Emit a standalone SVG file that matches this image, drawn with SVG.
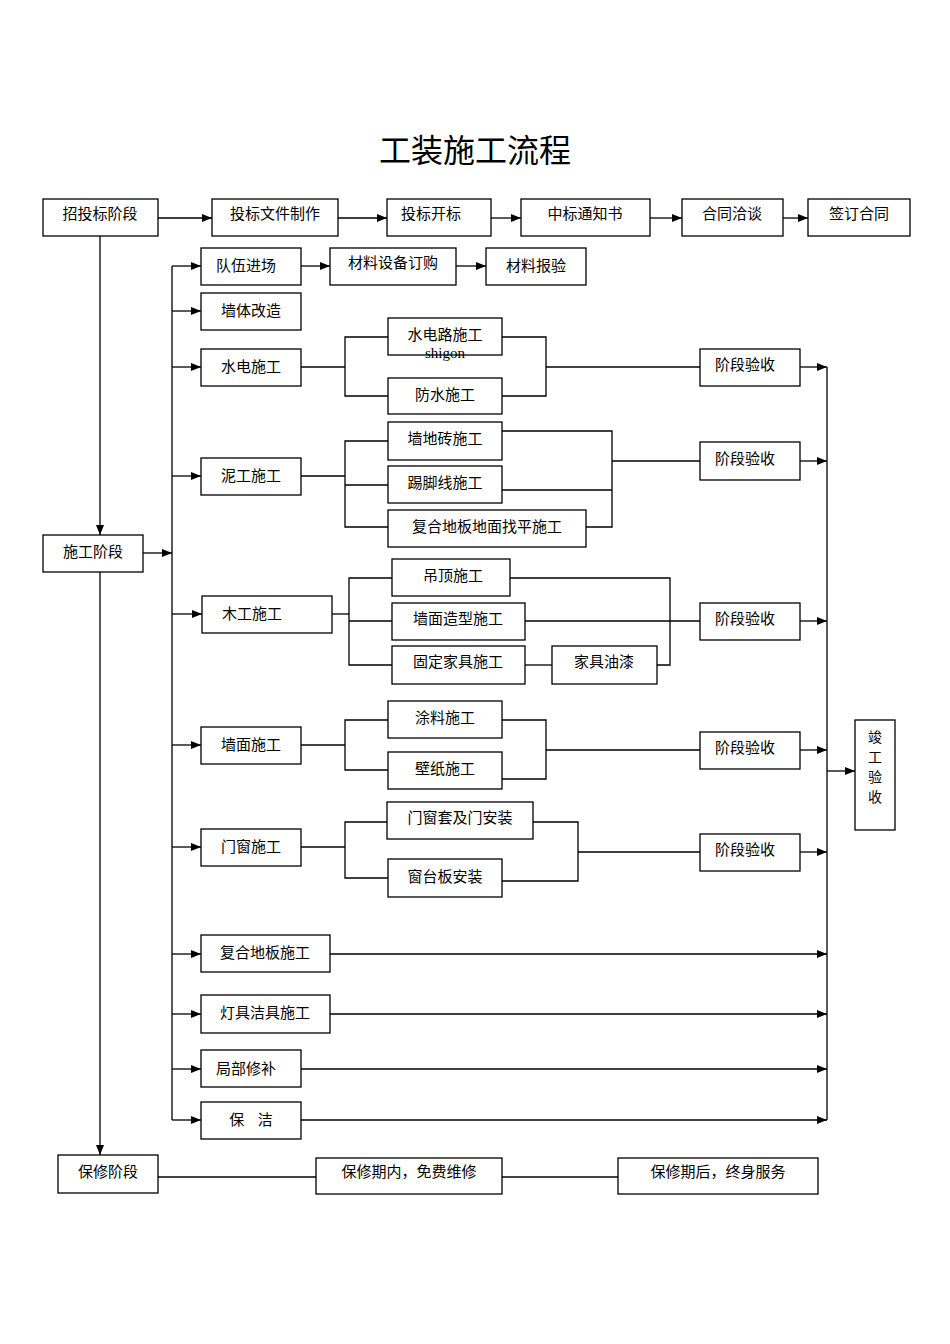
<svg xmlns="http://www.w3.org/2000/svg" width="950" height="1344" viewBox="0 0 950 1344">
<style>
rect{fill:#fff;stroke:#000;stroke-width:1.3}
text{font-family:"Noto Sans CJK SC","Liberation Sans",sans-serif;font-size:15px;text-anchor:middle;fill:#000}
.c line,.c polyline{stroke:#000;stroke-width:1.3;fill:none}
.a{marker-end:url(#ar)}
</style>
<defs><marker id="ar" markerWidth="10" markerHeight="8" refX="10" refY="4" orient="auto" markerUnits="userSpaceOnUse"><path d="M0,0L10,4L0,8z" fill="#000"/></marker></defs>
<rect x="0" y="0" width="950" height="1344" style="stroke:none"/>
<text x="475" y="162" style="font-size:32px">工装施工流程</text>
<g class="c">
<line class="a" x1="158" y1="218" x2="212" y2="218"/>
<line class="a" x1="338" y1="218" x2="387" y2="218"/>
<line class="a" x1="491" y1="218" x2="521" y2="218"/>
<line class="a" x1="650" y1="218" x2="682" y2="218"/>
<line class="a" x1="783" y1="218" x2="808" y2="218"/>
<line class="a" x1="100" y1="236" x2="100" y2="535"/>
<line class="a" x1="100" y1="572" x2="100" y2="1155"/>
<line x1="158" y1="1177" x2="316" y2="1177"/>
<line x1="502" y1="1177" x2="618" y2="1177"/>
<line class="a" x1="143" y1="553" x2="172" y2="553"/>
<line x1="172" y1="266" x2="172" y2="1120"/>
<line class="a" x1="172" y1="266" x2="201" y2="266"/>
<line class="a" x1="172" y1="311" x2="201" y2="311"/>
<line class="a" x1="172" y1="367" x2="201" y2="367"/>
<line class="a" x1="172" y1="476" x2="201" y2="476"/>
<line class="a" x1="172" y1="614" x2="202" y2="614"/>
<line class="a" x1="172" y1="745" x2="201" y2="745"/>
<line class="a" x1="172" y1="847" x2="201" y2="847"/>
<line class="a" x1="172" y1="954" x2="201" y2="954"/>
<line class="a" x1="172" y1="1014" x2="201" y2="1014"/>
<line class="a" x1="172" y1="1069" x2="201" y2="1069"/>
<line class="a" x1="172" y1="1120" x2="201" y2="1120"/>
<line class="a" x1="301" y1="266" x2="330" y2="266"/>
<line class="a" x1="456" y1="266" x2="486" y2="266"/>
<line x1="301" y1="367" x2="345" y2="367"/>
<polyline points="388,337 345,337 345,396 388,396"/>
<polyline points="502,337 546,337 546,396 502,396"/>
<line x1="546" y1="367" x2="700" y2="367"/>
<line x1="301" y1="476" x2="345" y2="476"/>
<polyline points="388,441 345,441 345,527 388,527"/>
<line x1="345" y1="485" x2="388" y2="485"/>
<polyline points="502,431 612,431 612,527 586,527"/>
<line x1="502" y1="490" x2="612" y2="490"/>
<line x1="612" y1="461" x2="700" y2="461"/>
<line x1="332" y1="614" x2="349" y2="614"/>
<polyline points="392,578 349,578 349,665 392,665"/>
<line x1="349" y1="621" x2="392" y2="621"/>
<polyline points="510,578 670,578 670,665 657,665"/>
<line x1="525" y1="665" x2="552" y2="665"/>
<line x1="525" y1="621" x2="700" y2="621"/>
<line x1="301" y1="745" x2="345" y2="745"/>
<polyline points="388,720 345,720 345,770 388,770"/>
<polyline points="502,720 546,720 546,779 502,779"/>
<line x1="546" y1="750" x2="700" y2="750"/>
<line x1="301" y1="847" x2="345" y2="847"/>
<polyline points="387,822 345,822 345,878 388,878"/>
<polyline points="533,822 578,822 578,881 502,881"/>
<line x1="578" y1="852" x2="700" y2="852"/>
<line class="a" x1="800" y1="367" x2="827" y2="367"/>
<line class="a" x1="800" y1="461" x2="827" y2="461"/>
<line class="a" x1="800" y1="621" x2="827" y2="621"/>
<line class="a" x1="800" y1="750" x2="827" y2="750"/>
<line class="a" x1="800" y1="852" x2="827" y2="852"/>
<line class="a" x1="330" y1="954" x2="827" y2="954"/>
<line class="a" x1="330" y1="1014" x2="827" y2="1014"/>
<line class="a" x1="301" y1="1069" x2="827" y2="1069"/>
<line class="a" x1="301" y1="1120" x2="827" y2="1120"/>
<line x1="827" y1="367" x2="827" y2="1120"/>
<line class="a" x1="827" y1="771" x2="855" y2="771"/>
</g>
<g id="n1"><rect x="43" y="199" width="115" height="37"/><text x="100" y="219">招投标阶段</text></g>
<g id="n2"><rect x="212" y="199" width="126" height="37"/><text x="275" y="219">投标文件制作</text></g>
<g id="n3"><rect x="387" y="199" width="104" height="37"/><text x="431" y="219">投标开标</text></g>
<g id="n4"><rect x="521" y="199" width="129" height="37"/><text x="585" y="219">中标通知书</text></g>
<g id="n5"><rect x="682" y="199" width="101" height="37"/><text x="732" y="219">合同洽谈</text></g>
<g id="n6"><rect x="808" y="199" width="102" height="37"/><text x="859" y="219">签订合同</text></g>
<g id="n7"><rect x="43" y="535" width="100" height="37"/><text x="93" y="557">施工阶段</text></g>
<g id="n8"><rect x="58" y="1155" width="100" height="38"/><text x="108" y="1177">保修阶段</text></g>
<g id="n9"><rect x="316" y="1158" width="186" height="36"/><text x="409" y="1177">保修期内，免费维修</text></g>
<g id="n10"><rect x="618" y="1158" width="200" height="36"/><text x="718" y="1177">保修期后，终身服务</text></g>
<g id="n11"><rect x="201" y="248" width="100" height="37"/><text x="246" y="271">队伍进场</text></g>
<g id="n12"><rect x="330" y="248" width="126" height="37"/><text x="393" y="268">材料设备订购</text></g>
<g id="n13"><rect x="486" y="248" width="100" height="37"/><text x="536" y="271">材料报验</text></g>
<g id="n14"><rect x="201" y="293" width="100" height="37"/><text x="251" y="316">墙体改造</text></g>
<g id="n15"><rect x="201" y="349" width="100" height="37"/><text x="251" y="372">水电施工</text></g>
<g id="n16"><rect x="388" y="318" width="114" height="37"/><text x="445" y="340">水电路施工</text><text x="445" y="358" style="font-family:'Liberation Serif',serif">shigon</text></g>
<g id="n17"><rect x="388" y="378" width="114" height="36"/><text x="445" y="400">防水施工</text></g>
<g id="n18"><rect x="201" y="458" width="100" height="37"/><text x="251" y="481">泥工施工</text></g>
<g id="n19"><rect x="388" y="422" width="114" height="38"/><text x="445" y="444">墙地砖施工</text></g>
<g id="n20"><rect x="388" y="466" width="114" height="37"/><text x="445" y="488">踢脚线施工</text></g>
<g id="n21"><rect x="388" y="510" width="198" height="37"/><text x="487" y="532">复合地板地面找平施工</text></g>
<g id="n22"><rect x="202" y="596" width="130" height="37"/><text x="252" y="619">木工施工</text></g>
<g id="n23"><rect x="392" y="559" width="118" height="37"/><text x="453" y="581">吊顶施工</text></g>
<g id="n24"><rect x="392" y="603" width="133" height="37"/><text x="458" y="624">墙面造型施工</text></g>
<g id="n25"><rect x="392" y="646" width="133" height="38"/><text x="458" y="667">固定家具施工</text></g>
<g id="n26"><rect x="552" y="646" width="105" height="38"/><text x="604" y="667">家具油漆</text></g>
<g id="n27"><rect x="201" y="727" width="100" height="37"/><text x="251" y="750">墙面施工</text></g>
<g id="n28"><rect x="388" y="701" width="114" height="37"/><text x="445" y="723">涂料施工</text></g>
<g id="n29"><rect x="388" y="752" width="114" height="37"/><text x="445" y="774">壁纸施工</text></g>
<g id="n30"><rect x="201" y="829" width="100" height="37"/><text x="251" y="852">门窗施工</text></g>
<g id="n31"><rect x="387" y="802" width="146" height="37"/><text x="460" y="823">门窗套及门安装</text></g>
<g id="n32"><rect x="388" y="859" width="114" height="38"/><text x="445" y="882">窗台板安装</text></g>
<g id="n33"><rect x="700" y="349" width="100" height="37"/><text x="745" y="370">阶段验收</text></g>
<g id="n34"><rect x="700" y="442" width="100" height="38"/><text x="745" y="464">阶段验收</text></g>
<g id="n35"><rect x="700" y="603" width="100" height="37"/><text x="745" y="624">阶段验收</text></g>
<g id="n36"><rect x="700" y="732" width="100" height="37"/><text x="745" y="753">阶段验收</text></g>
<g id="n37"><rect x="700" y="834" width="100" height="37"/><text x="745" y="855">阶段验收</text></g>
<g id="n38"><rect x="201" y="935" width="129" height="37"/><text x="265" y="958">复合地板施工</text></g>
<g id="n39"><rect x="201" y="995" width="129" height="38"/><text x="265" y="1018">灯具洁具施工</text></g>
<g id="n40"><rect x="201" y="1050" width="100" height="37"/><text x="246" y="1074">局部修补</text></g>
<g id="n41"><rect x="201" y="1102" width="100" height="37"/><text x="251" y="1125" xml:space="preserve">保    洁</text></g>
<g id="n42"><rect x="855" y="720" width="40" height="110"/><text x="875" y="742" style="font-size:14px">竣</text><text x="875" y="762" style="font-size:14px">工</text><text x="875" y="782" style="font-size:14px">验</text><text x="875" y="802" style="font-size:14px">收</text></g>
</svg>
